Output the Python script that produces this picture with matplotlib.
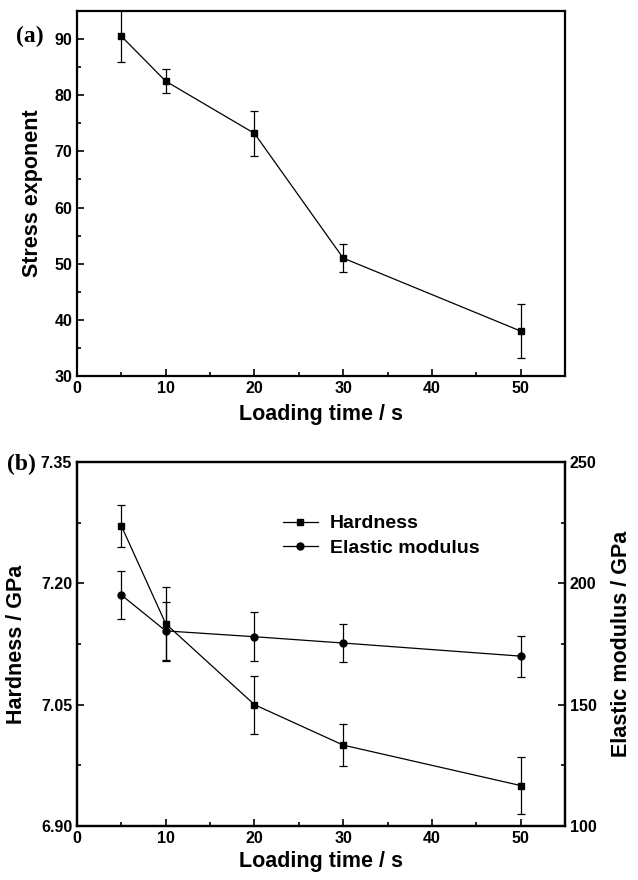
import matplotlib
matplotlib.use('Agg')
from matplotlib import pyplot as plt
from matplotlib.lines import Line2D
from matplotlib.ticker import MultipleLocator

# loading times (s)
load_time = [5, 10, 20, 30, 50]

# panel (a)
stress_exp = [90.5, 82.5, 73.2, 51.0, 38.0]
stress_err = [4.6, 2.1, 4.0, 2.5, 4.8]

# panel (b)
hardness = [7.271, 7.150, 7.050, 7.000, 6.950]
hardness_err = [0.026, 0.046, 0.036, 0.026, 0.035]
modulus = [195.2, 180.4, 178.0, 175.4, 170.0]
modulus_err = [10.0, 12.0, 10.0, 8.0, 8.5]

plt.rcParams['font.family'] = ['Liberation Sans', 'DejaVu Sans']
plt.rcParams['font.weight'] = 'bold'
plt.rcParams['axes.labelweight'] = 'bold'

W, H = 638, 880
fig = plt.figure(figsize=(W/100, H/100), dpi=100)
ax1 = fig.add_axes([77/W, 1-376/H, 488/W, 365/H])
ax2 = fig.add_axes([77/W, 1-826/H, 488/W, 364/H])
ax3 = ax2.twinx()

def style(ax):
	for s in ax.spines.values():
		s.set_linewidth(1.6)
	ax.tick_params(which='both', direction='in', labelsize=11.5, width=1.2)
	ax.tick_params(which='major', length=5)
	ax.tick_params(which='minor', length=3)
	for lab in ax.get_xticklabels() + ax.get_yticklabels():
		lab.set_fontweight('bold')

ekw = dict(color='black', lw=0.9, elinewidth=0.9, capsize=3, capthick=0.9, markersize=5)

# (a)
ax1.errorbar(load_time, stress_exp, yerr=stress_err, marker='s', **ekw)
ax1.set_xlim(0, 55)
ax1.set_ylim(30, 95)
ax1.xaxis.set_major_locator(MultipleLocator(10))
ax1.xaxis.set_minor_locator(MultipleLocator(5))
ax1.yaxis.set_major_locator(MultipleLocator(10))
ax1.yaxis.set_minor_locator(MultipleLocator(5))
ax1.set_xlabel('Loading time / s', fontsize=15.5, labelpad=6)
ax1.set_ylabel('Stress exponent', fontsize=15.5, labelpad=8)
style(ax1)

# (b)
ax2.errorbar(load_time, hardness, yerr=hardness_err, marker='s', **ekw)
ax3.errorbar(load_time, modulus, yerr=modulus_err, marker='o', **ekw)
ax2.set_xlim(0, 55)
ax2.set_ylim(6.90, 7.35)
ax3.set_ylim(100, 250)
ax2.xaxis.set_major_locator(MultipleLocator(10))
ax2.xaxis.set_minor_locator(MultipleLocator(5))
ax2.yaxis.set_major_locator(MultipleLocator(0.15))
ax2.yaxis.set_minor_locator(MultipleLocator(0.075))
ax2.yaxis.set_major_formatter(plt.FormatStrFormatter('%.2f'))
ax3.yaxis.set_major_locator(MultipleLocator(50))
ax3.yaxis.set_minor_locator(MultipleLocator(25))
ax2.set_xlabel('Loading time / s', fontsize=15.5, labelpad=4)
ax2.set_ylabel('Hardness / GPa', fontsize=15.5, labelpad=10)
ax3.set_ylabel('Elastic modulus / GPa', fontsize=15.5, labelpad=10)
style(ax2)
style(ax3)

handles = [Line2D([], [], color='black', lw=0.9, marker='s', markersize=5),
	Line2D([], [], color='black', lw=0.9, marker='o', markersize=5)]
ax3.legend(handles, ['Hardness', 'Elastic modulus'], loc='upper left',
	bbox_to_anchor=(0.422, 0.855), frameon=False, borderpad=0, borderaxespad=0,
	handlelength=1.8, handletextpad=0.6, labelspacing=0.35,
	prop={'size': 14, 'weight': 'bold'})

fig.text(44/W, 1-36/H, '(a)', family=['Liberation Serif'], fontsize=17,
	fontweight='bold', ha='right', va='center')
fig.text(36/W, 1-464/H, '(b)', family=['Liberation Serif'], fontsize=17,
	fontweight='bold', ha='right', va='center')

fig.savefig('out.png', dpi=100)
